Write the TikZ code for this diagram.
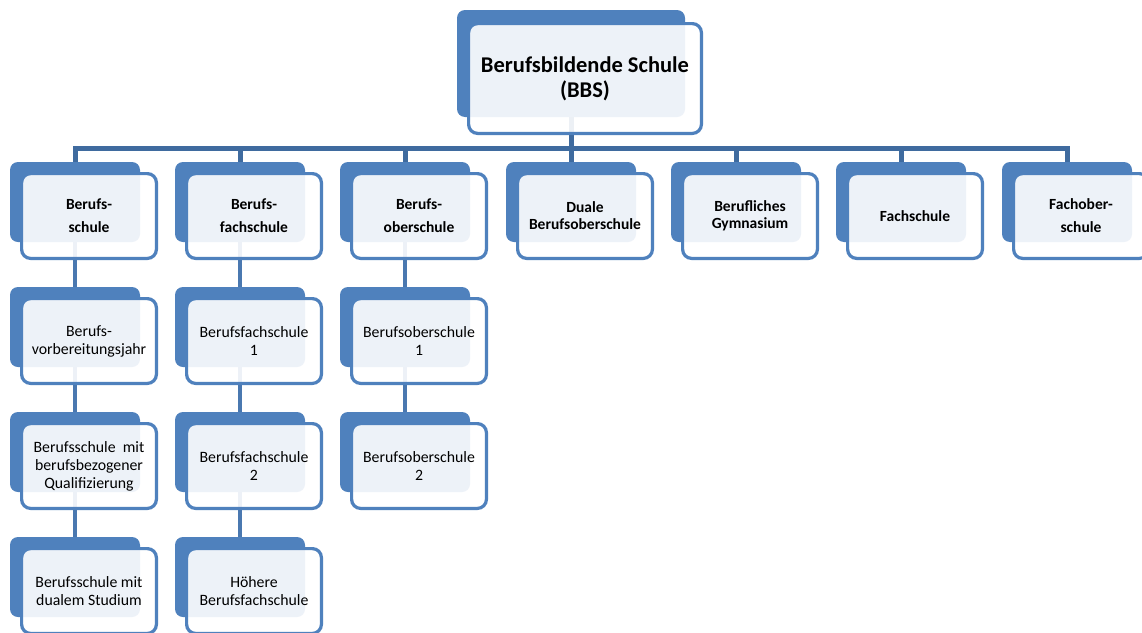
\documentclass[tikz,border=0pt]{standalone}
\usepackage{fontspec}
\setmainfont{Carlito}
\usetikzlibrary{backgrounds}
\definecolor{backblue}{HTML}{4F81BD}
\definecolor{busblue}{HTML}{3F6B9F}
\definecolor{linkblue}{HTML}{4A78B0}
\begin{document}
\begin{tikzpicture}[x=1pt,y=-1pt,
  backbox/.style={draw=none, fill=backblue, rounded corners=8pt, minimum width=130pt, minimum height=80pt, inner sep=0pt},
  frontbox/.style={draw=backblue, line width=3.2pt, fill=white, fill opacity=0.9, text opacity=1, draw opacity=1, rounded corners=9pt, minimum width=134.8pt, minimum height=84.8pt, inner sep=0pt, align=center, text=black, font=\fontsize{15.8}{18}\selectfont},
  headtext/.style={font=\bfseries\fontsize{15.5}{17}\selectfont},
  conn/.style={draw=linkblue, line width=4.5pt},
  busline/.style={draw=busblue, line width=5pt, line join=miter},
]
\useasboundingbox (0,0) rectangle (1142,632);

% top box
\node[backbox, minimum width=228pt, minimum height=107pt] (bbsb) at (571,63.5) {};
\node[frontbox, minimum width=232.8pt, minimum height=109.8pt, font=\bfseries\fontsize{22.5}{25}\selectfont] (bbsf) at (585,78.5) {Berufsbildende Schule\\(BBS)};

% level boxes: back at (c, T+40), front at (c+14, T+54), T = 162 + 125(k-1)
% column 1
\node[backbox] (b11) at (75,202) {};
\node[frontbox, headtext] (f11) at (89,216) {Berufs-\\[6pt]schule};
\node[backbox] (b12) at (75,327) {};
\node[frontbox] (f12) at (89,341) {Berufs-\\vorbereitungsjahr};
\node[backbox] (b13) at (75,452) {};
\node[frontbox] (f13) at (89,466) {Berufsschule\ \ mit\\berufsbezogener\\Qualifizierung};
\node[backbox] (b14) at (75,577) {};
\node[frontbox] (f14) at (89,591) {Berufsschule mit\\dualem Studium};
% column 2
\node[backbox] (b21) at (240,202) {};
\node[frontbox, headtext] (f21) at (254,216) {Berufs-\\[6pt]fachschule};
\node[backbox] (b22) at (240,327) {};
\node[frontbox] (f22) at (254,341) {Berufsfachschule\\1};
\node[backbox] (b23) at (240,452) {};
\node[frontbox] (f23) at (254,466) {Berufsfachschule\\2};
\node[backbox] (b24) at (240,577) {};
\node[frontbox] (f24) at (254,591) {Höhere\\Berufsfachschule};
% column 3
\node[backbox] (b31) at (405,202) {};
\node[frontbox, headtext] (f31) at (419,216) {Berufs-\\[6pt]oberschule};
\node[backbox] (b32) at (405,327) {};
\node[frontbox] (f32) at (419,341) {Berufsoberschule\\1};
\node[backbox] (b33) at (405,452) {};
\node[frontbox] (f33) at (419,466) {Berufsoberschule\\2};
% columns 4-7
\node[backbox] (b41) at (571,202) {};
\node[frontbox, headtext] (f41) at (585,216) {Duale\\Berufsoberschule};
\node[backbox] (b51) at (736,202) {};
\node[frontbox, headtext] (f51) at (750,216) {Berufliches\\Gymnasium};
\node[backbox] (b61) at (901,202) {};
\node[frontbox, headtext] (f61) at (915,216) {Fachschule};
\node[backbox] (b71) at (1067,202) {};
\node[frontbox, headtext] (f71) at (1081,216) {Fachober-\\[6pt]schule};

\coordinate (bus) at (571,148);

\begin{pgfonlayer}{background}
  \fill[white] (0,0) rectangle (1142,632);
  \draw[busline] (bbsb.center) -- (bus);
  \draw[busline] (b11.center) -- (b11.center |- bus) -- (b71.center |- bus) -- (b71.center);
  \foreach \n in {b21,b31,b41,b51,b61} {
    \draw[busline] (\n.center) -- (\n.center |- bus);
  }
  \draw[conn] (b11.center) -- (b12.center);
  \draw[conn] (b12.center) -- (b13.center);
  \draw[conn] (b13.center) -- (b14.center);
  \draw[conn] (b21.center) -- (b22.center);
  \draw[conn] (b22.center) -- (b23.center);
  \draw[conn] (b23.center) -- (b24.center);
  \draw[conn] (b31.center) -- (b32.center);
  \draw[conn] (b32.center) -- (b33.center);
\end{pgfonlayer}
\end{tikzpicture}
\end{document}
